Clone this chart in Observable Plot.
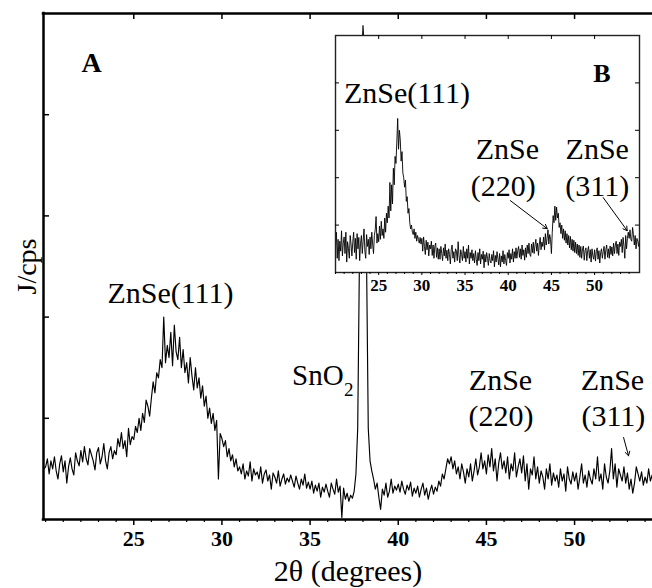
<!DOCTYPE html>
<html><head><meta charset="utf-8">
<script src="https://cdn.jsdelivr.net/npm/d3@7"></script>
<script src="https://cdn.jsdelivr.net/npm/@observablehq/plot@0.6"></script>
<style>
html,body{margin:0;padding:0;background:#fff;}
#wrap{position:relative;width:652px;height:588px;overflow:hidden;background:#fff;}
#main{position:absolute;left:0;top:0;}
#inset{position:absolute;left:333px;top:33px;}
svg text{font-family:"Liberation Serif","Times New Roman",serif;}
</style></head><body>
<div id="wrap"><div id="main"></div><div id="inset"></div></div>
<script>
// ---- data ----
const mainStart = 19.9, insetStart = 20.0, step = 0.1;
const mainCounts = [0.50,
0.52,0.60,0.45,0.58,0.50,0.62,0.48,0.40,0.55,0.63,
0.47,0.58,0.36,0.52,0.61,0.50,0.44,0.66,0.58,0.53,
0.68,0.57,0.72,0.60,0.54,0.70,0.64,0.58,0.49,0.66,
0.71,0.55,0.62,0.75,0.58,0.50,0.66,0.72,0.60,0.68,
0.64,0.80,0.72,0.86,0.70,0.78,0.62,0.90,0.74,0.82,
0.79,0.92,0.86,1.00,0.88,1.05,0.96,1.18,1.12,1.02,
1.20,1.36,1.25,1.45,1.40,1.58,1.50,2.00,1.55,1.72,
1.60,1.85,1.52,1.92,1.66,1.58,1.80,1.50,1.68,1.45,
1.55,1.35,1.60,1.42,1.28,1.50,1.30,1.40,1.20,1.32,
1.12,1.22,1.00,1.10,0.95,1.05,0.88,0.98,0.40,0.85,
0.80,0.72,0.78,0.62,0.70,0.58,0.64,0.52,0.60,0.48,
0.52,0.45,0.55,0.40,0.48,0.43,0.57,0.38,0.50,0.44,
0.47,0.40,0.52,0.36,0.45,0.49,0.38,0.44,0.30,0.46,
0.42,0.36,0.48,0.33,0.40,0.45,0.35,0.41,0.37,0.44,
0.38,0.32,0.43,0.36,0.30,0.40,0.34,0.45,0.31,0.37,
0.30,0.38,0.26,0.34,0.28,0.36,0.22,0.32,0.27,0.35,
0.28,0.22,0.36,0.30,0.25,0.40,0.27,0.33,0.02,0.31,
0.20,0.26,0.18,0.24,0.21,0.28,0.45,0.90,2.60,4.30,
4.88,4.50,2.60,0.90,0.58,0.48,0.40,0.30,0.36,0.22,
0.10,0.30,0.24,0.36,0.22,0.28,0.40,0.26,0.33,0.29,
0.35,0.27,0.38,0.30,0.25,0.34,0.29,0.37,0.23,0.31,
0.26,0.33,0.22,0.30,0.36,0.24,0.31,0.20,0.28,0.34,
0.25,0.32,0.28,0.38,0.33,0.45,0.40,0.50,0.60,0.55,
0.62,0.50,0.58,0.45,0.52,0.40,0.55,0.47,0.36,0.50,
0.42,0.55,0.38,0.48,0.60,0.44,0.52,0.66,0.50,0.58,
0.45,0.64,0.52,0.70,0.48,0.60,0.38,0.56,0.66,0.50,
0.58,0.46,0.62,0.40,0.55,0.48,0.66,0.42,0.52,0.60,
0.46,0.63,0.38,0.55,0.30,0.50,0.44,0.62,0.40,0.52,
0.36,0.48,0.42,0.30,0.50,0.40,0.55,0.34,0.46,0.38,
0.44,0.32,0.50,0.38,0.45,0.28,0.52,0.40,0.35,0.47,
0.38,0.46,0.30,0.42,0.55,0.36,0.44,0.32,0.48,0.40,
0.35,0.50,0.40,0.62,0.38,0.45,0.30,0.55,0.42,0.36,
0.48,0.70,0.40,0.55,0.32,0.50,0.44,0.38,0.52,0.36,
0.46,0.30,0.40,0.26,0.36,0.52,0.45,0.38,0.47,0.34,
0.42,0.36,0.50,0.38,0.44,0.40];

const insetCounts = [
0.55,0.85,0.30,0.70,0.25,0.66,0.45,0.88,0.35,0.62,
0.75,0.40,0.85,0.22,0.65,0.50,0.30,0.78,0.60,0.35,
0.64,0.85,0.42,0.72,0.28,0.82,0.50,0.74,0.25,0.62,
0.78,0.40,0.66,0.92,0.45,0.30,0.80,0.55,0.70,0.38,
0.75,0.50,0.85,0.60,0.40,0.78,0.90,1.18,0.62,0.82,
0.65,0.98,0.70,1.08,0.78,0.92,0.72,1.15,0.85,1.25,
1.05,1.40,1.15,1.90,1.30,1.85,1.45,2.20,1.85,2.45,
2.30,2.75,3.25,2.60,3.00,2.80,2.35,2.55,2.10,2.00,
1.80,1.95,1.50,1.60,1.25,1.35,1.05,0.92,1.00,0.85,
0.80,0.92,0.72,0.85,0.66,0.78,0.70,0.62,0.74,0.60,
0.72,0.45,0.75,0.55,0.38,0.68,0.48,0.64,0.35,0.58,
0.50,0.66,0.36,0.58,0.30,0.55,0.62,0.32,0.52,0.28,
0.50,0.28,0.55,0.40,0.25,0.52,0.35,0.60,0.30,0.47,
0.25,0.50,0.38,0.18,0.48,0.58,0.30,0.44,0.22,0.50,
0.45,0.25,0.65,0.35,0.20,0.48,0.38,0.25,0.55,0.30,
0.44,0.22,0.50,0.30,0.58,0.18,0.42,0.30,0.48,0.25,
0.40,0.20,0.46,0.28,0.15,0.42,0.25,0.50,0.18,0.38,
0.28,0.45,0.10,0.38,0.22,0.42,0.30,0.15,0.40,0.25,
0.20,0.38,0.25,0.46,0.12,0.36,0.22,0.44,0.30,0.16,
0.40,0.12,0.35,0.22,0.46,0.18,0.38,0.25,0.15,0.42,
0.30,0.48,0.20,0.40,0.28,0.50,0.22,0.44,0.30,0.52,
0.30,0.46,0.55,0.32,0.50,0.28,0.58,0.36,0.48,0.26,
0.52,0.32,0.58,0.40,0.62,0.38,0.34,0.60,0.42,0.64,
0.40,0.58,0.70,0.45,0.62,0.36,0.60,0.74,0.48,0.64,
0.55,0.75,0.48,0.82,0.58,0.72,0.90,0.60,0.80,0.70,
0.40,0.85,1.20,1.05,1.40,1.10,1.38,1.15,1.25,0.95,
1.05,0.82,1.00,0.72,0.92,0.68,0.88,0.62,0.82,0.58,
0.78,0.52,0.76,0.48,0.70,0.45,0.68,0.42,0.64,0.40,
0.60,0.36,0.58,0.32,0.55,0.30,0.50,0.56,0.26,0.46,
0.52,0.25,0.46,0.55,0.30,0.48,0.22,0.50,0.35,0.28,
0.48,0.24,0.44,0.52,0.28,0.46,0.20,0.42,0.50,0.30,
0.44,0.55,0.28,0.48,0.58,0.32,0.50,0.30,0.56,0.38,
0.54,0.35,0.62,0.40,0.58,0.66,0.40,0.60,0.36,0.64,
0.55,0.70,0.42,0.74,0.55,0.30,0.78,0.50,0.72,0.85,
0.72,0.90,0.70,0.66,0.95,0.80,0.58,0.78,0.50,0.72,
0.66,0.55,0.70];

const xTicks = [25, 30, 35, 40, 45, 50];
const xMinorTicks = [20,21,22,23,24,26,27,28,29,31,32,33,34,36,37,38,39,41,42,43,44,46,47,48,49,51,52,53,54];
const yTicks = [1, 2, 3, 4];

const mainLabels = [
  {text: "ZnSe(111)", angle: 27.08, counts: 2.144},
  {text: "ZnSe", angle: 45.80, counts: 1.275},
  {text: "(220)", angle: 45.83, counts: 0.919},
  {text: "ZnSe", angle: 52.15, counts: 1.275},
  {text: "(311)", angle: 52.20, counts: 0.919}
];
const snLabel = [{text: "SnO", angle: 36.90, counts: 1.33}];
const snSub = [{text: "2", angle: 36.92, counts: 1.22}];
const mainPanel = [{text: "A", angle: 22.04, counts: 4.417}];
const mainArrows = [{x1: 52.78, y1: 0.81, x2: 53.06, y2: 0.63}];

const insetLabels = [
  {text: "ZnSe(111)", angle: 28.27, counts: 3.568},
  {text: "ZnSe", angle: 39.90, counts: 2.405},
  {text: "(220)", angle: 39.43, counts: 1.622},
  {text: "ZnSe", angle: 50.31, counts: 2.405},
  {text: "(311)", angle: 50.31, counts: 1.622}
];
const insetPanel = [{text: "B", angle: 49.84, counts: 4.012}];
const insetArrows = [
  {x1: 40.24, y1: 1.517, x2: 44.52, y2: 0.924},
  {x1: 51.0, y1: 1.58, x2: 53.78, y2: 0.882}
];

// ---- build ----
const FONT = "Liberation Serif, Times New Roman, serif";
const mainData = mainCounts.map((c, i) => ({angle: +(mainStart + i * step).toFixed(2), counts: c}));
const insetData = insetCounts.map((c, i) => ({angle: +(insetStart + i * step).toFixed(2), counts: c}));

const W = 652, H = 588, mt = 13, mb = 69, ml = 43, mr = 0;
const fH = H - mt - mb, fW = W - ml - mr;
const xMin = 19.88;

const main = Plot.plot({
  width: W, height: H,
  marginTop: mt, marginBottom: mb, marginLeft: ml, marginRight: mr,
  style: {fontFamily: FONT, background: "white", color: "black", overflow: "visible"},
  x: {domain: [xMin, 54.42]},
  y: {domain: [0, 5], axis: null},
  marks: [
    Plot.axisX({ticks: xTicks, tickSize: 6, tickPadding: 4.5, fontSize: 22, fontWeight: "bold", fontFamily: FONT, strokeWidth: 1.5, label: null}),
    Plot.axisX({ticks: xMinorTicks, tickSize: 3, tickFormat: () => "", strokeWidth: 1.2, label: null}),
    Plot.tickX(xTicks, {x: d => d, insetBottom: fH - 6, strokeWidth: 1.5}),
    Plot.tickY(yTicks, {y: d => d, insetRight: fW - 6, strokeWidth: 1.5}),
    Plot.line(mainData, {x: "angle", y: "counts", stroke: "black", strokeWidth: 1.15}),
    Plot.ruleY([0, 5], {strokeWidth: 2.5, strokeLinecap: "square"}),
    Plot.ruleX([xMin], {strokeWidth: 2.5, strokeLinecap: "square"}),
    Plot.text(mainLabels, {x: "angle", y: "counts", text: "text", fontSize: 30, textAnchor: "middle", lineAnchor: "bottom", fontFamily: FONT}),
    Plot.text(snLabel, {x: "angle", y: "counts", text: "text", fontSize: 29, textAnchor: "end", lineAnchor: "bottom", fontFamily: FONT}),
    Plot.text(snSub, {x: "angle", y: "counts", text: "text", fontSize: 19, textAnchor: "start", lineAnchor: "bottom", fontFamily: FONT}),
    Plot.text(mainPanel, {x: "angle", y: "counts", text: "text", fontSize: 28, fontWeight: "bold", textAnchor: "start", lineAnchor: "bottom", fontFamily: FONT}),
    Plot.arrow(mainArrows, {x1: "x1", y1: "y1", x2: "x2", y2: "y2", stroke: "black", strokeWidth: 1, headLength: 7}),
    Plot.text(["J/cps"], {frameAnchor: "left", dx: -16, rotate: -90, text: d => d, fontSize: 28, textAnchor: "middle", lineAnchor: "middle", fontFamily: FONT}),
    Plot.text(["2θ (degrees)"], {frameAnchor: "bottom", dy: 61, text: d => d, fontSize: 30, textAnchor: "middle", lineAnchor: "bottom", fontFamily: FONT})
  ]
});
document.getElementById("main").appendChild(main);

const iW = 310, iH = 265, imt = 2, imb = 26, iml = 2, imr = 4;
const ifH = iH - imt - imb, ifW = iW - iml - imr;
const inset = Plot.plot({
  width: iW, height: iH,
  marginTop: imt, marginBottom: imb, marginLeft: iml, marginRight: imr,
  style: {fontFamily: FONT, background: "none", color: "black", overflow: "visible"},
  x: {domain: [20, 55.2]},
  y: {domain: [0, 5], axis: null},
  marks: [
    Plot.frame({fill: "white", stroke: "none"}),
    Plot.line(insetData, {x: "angle", y: "counts", stroke: "black", strokeWidth: 0.9}),
    Plot.frame({stroke: "#222", strokeWidth: 1.4}),
    Plot.tickX(xTicks, {x: d => d, insetBottom: ifH - 4}),
    Plot.tickY(yTicks, {y: d => d, insetRight: ifW - 4}),
    Plot.tickY(yTicks, {y: d => d, insetLeft: ifW - 4}),
    Plot.axisX({ticks: xTicks, tickSize: 3, tickPadding: 3, fontSize: 17, fontWeight: "bold", fontFamily: FONT, label: null}),
    Plot.axisX({ticks: xMinorTicks, tickSize: 2, tickFormat: () => "", label: null}),
    Plot.text(insetLabels, {x: "angle", y: "counts", text: "text", fontSize: 30, textAnchor: "middle", lineAnchor: "bottom", fontFamily: FONT}),
    Plot.text(insetPanel, {x: "angle", y: "counts", text: "text", fontSize: 26, fontWeight: "bold", textAnchor: "start", lineAnchor: "bottom", fontFamily: FONT}),
    Plot.arrow(insetArrows, {x1: "x1", y1: "y1", x2: "x2", y2: "y2", stroke: "black", strokeWidth: 1, headLength: 7})
  ]
});
document.getElementById("inset").appendChild(inset);
</script>
</body></html>
